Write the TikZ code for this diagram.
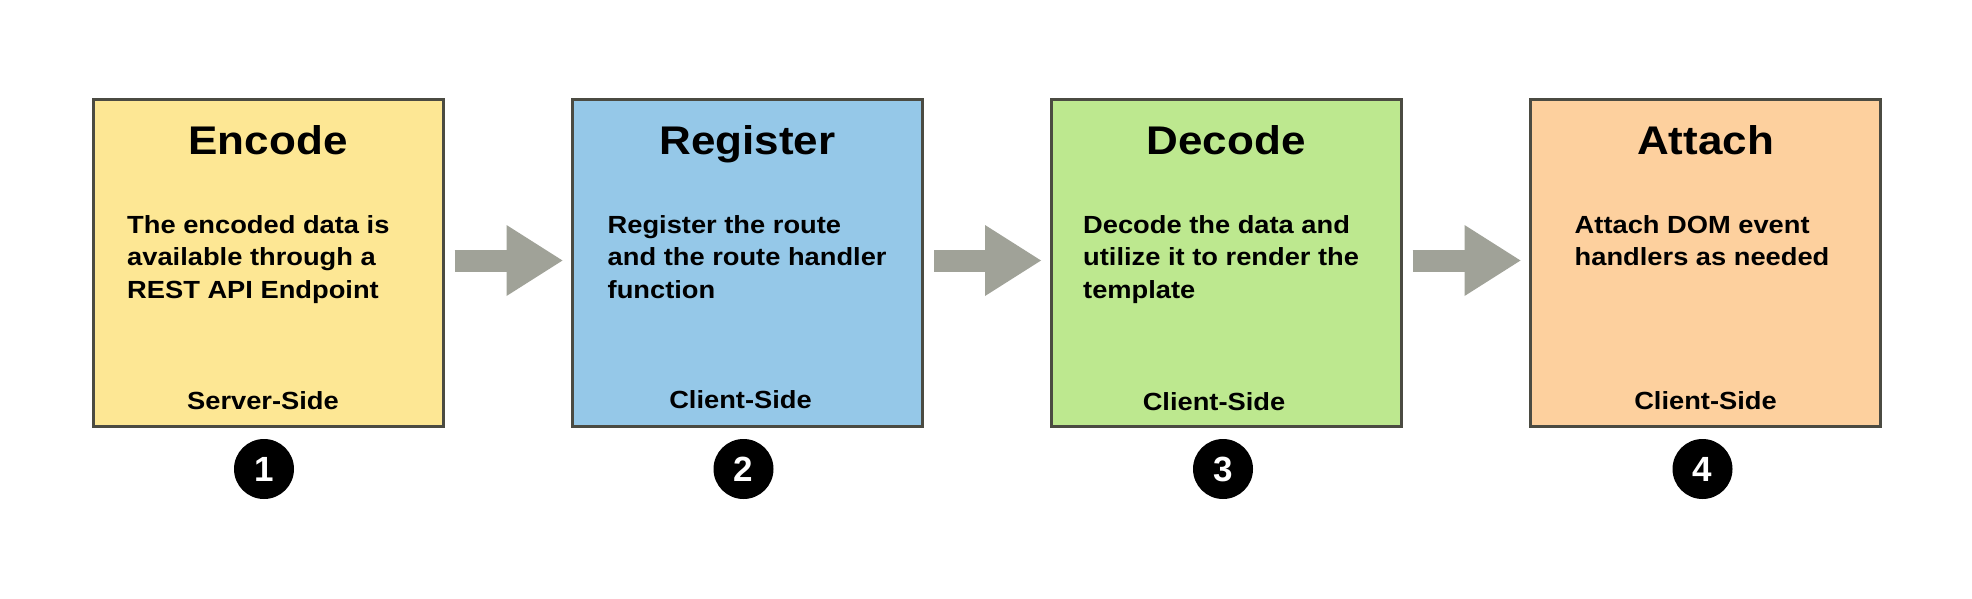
\documentclass[tikz,border=0pt]{standalone}
\usepackage{fontspec}
\setmainfont{Liberation Sans}[FakeStretch=1.1]
\newfontfamily\digitfont{Liberation Sans}
\usetikzlibrary{arrows.meta,calc}
\definecolor{boxborder}{HTML}{4B4B42}
\definecolor{stageyellow}{HTML}{FDE794}
\definecolor{stageblue}{HTML}{95C8E8}
\definecolor{stagegreen}{HTML}{BDE88F}
\definecolor{stageorange}{HTML}{FDD09E}
\definecolor{arrowgray}{HTML}{A0A298}
\begin{document}
\begin{tikzpicture}[x=1pt,y=-1pt,
  stagebox/.style={draw=boxborder,line width=3pt,minimum width=350pt,minimum height=327pt,inner sep=0pt},
  titletext/.style={font=\fontsize{40}{48}\selectfont\bfseries,inner sep=0pt,anchor=base},
  bodytext/.style={font=\fontsize{24.8}{32.5}\selectfont\bfseries,inner sep=0pt,anchor=base west,align=left},
  sidetext/.style={font=\fontsize{24.8}{30}\selectfont\bfseries,inner sep=0pt,anchor=base},
  numdot/.style={circle,fill=black,minimum size=60pt,inner sep=0pt,text=white,font=\digitfont\fontsize{35}{40}\selectfont\bfseries},
  flow/.style={draw=arrowgray,line width=22pt,-{Triangle[length=56pt,width=71pt,line width=0pt]}}]
\useasboundingbox[fill=white] (0,0) rectangle (1972,598);
% boxes
\node[stagebox,fill=stageyellow] (b1) at (268,263) {};
\node[stagebox,fill=stageblue]   (b2) at (747.5,263) {};
\node[stagebox,fill=stagegreen]  (b3) at (1226,263) {};
\node[stagebox,fill=stageorange] (b4) at (1705.5,263) {};
% titles
\node[titletext] (t1) at (b1 |- 0,154) {Encode};
\node[titletext] (t2) at (b2 |- 0,154) {Register};
\node[titletext] (t3) at (b3 |- 0,154) {Decode};
\node[titletext] (t4) at (b4 |- 0,154) {Attach};
% bodies (anchored at the baseline of the last line)
\node[bodytext,xshift=35.5pt] (d1) at (b1.west |- 0,298) {The encoded data is\\available through a\\REST API Endpoint};
\node[bodytext,xshift=36.5pt] (d2) at (b2.west |- 0,298) {Register the route\\and the route handler\\function};
\node[bodytext,xshift=33.5pt] (d3) at (b3.west |- 0,298) {Decode the data and\\utilize it to render the\\template};
\node[bodytext,xshift=45.5pt] (d4) at (b4.west |- 0,265.5) {Attach DOM event\\handlers as needed};
% side labels
\node[sidetext,xshift=-5pt] (s1) at (b1 |- 0,409) {Server-Side};
\node[sidetext,xshift=-7pt] (s2) at (b2 |- 0,408) {Client-Side};
\node[sidetext,xshift=-12pt] (s3) at (b3 |- 0,410) {Client-Side};
\node[sidetext] (s4) at (b4 |- 0,409) {Client-Side};
% numbers
\node[numdot,xshift=-4pt] (n1) at (b1 |- 0,469) {1};
\node[numdot,xshift=-4pt] (n2) at (b2 |- 0,469) {2};
\node[numdot,xshift=-3pt] (n3) at (b3 |- 0,469) {3};
\node[numdot,xshift=-3pt] (n4) at (b4 |- 0,469) {4};
% arrows
\draw[flow] ([xshift=10pt,yshift=2.5pt]b1.east) -- ([xshift=-8.5pt,yshift=2.5pt]b2.west);
\draw[flow] ([xshift=10pt,yshift=2.5pt]b2.east) -- ([xshift=-8.5pt,yshift=2.5pt]b3.west);
\draw[flow] ([xshift=10pt,yshift=2.5pt]b3.east) -- ([xshift=-8.5pt,yshift=2.5pt]b4.west);
\end{tikzpicture}
\end{document}
